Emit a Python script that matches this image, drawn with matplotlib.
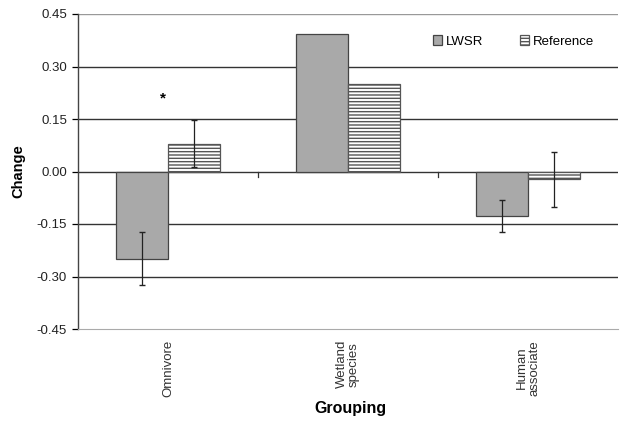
import numpy as np
import matplotlib
matplotlib.use("Agg")
import matplotlib.pyplot as plt

# values
groups = ["Omnivore", "Wetland\nspecies", "Human\nassociate"]
lwsr = [-0.249, 0.394, -0.128]
lwsr_err = [0.075, 0.0, 0.046]
reference = [0.080, 0.251, -0.022]
reference_err = [0.068, 0.0, 0.079]
yticks = [-0.45, -0.30, -0.15, 0.00, 0.15, 0.30, 0.45]

plt.rcParams['font.family'] = ['Liberation Sans', 'DejaVu Sans']
plt.rcParams['hatch.color'] = '#c8c8c8'
plt.rcParams['hatch.linewidth'] = 1.0

fig = plt.figure(figsize=(6.2, 4.22), dpi=100)
ax = fig.add_axes([78 / 620, 93 / 422, 540 / 620, 315 / 422])

x = np.arange(len(groups))
w = 0.29

# gridlines behind the bars
for t in yticks[1:-1]:
    ax.axhline(t, color='#333333', lw=1.0, zorder=0)

ax.bar(x - w / 2, lwsr, w, color='#a9a9a9', edgecolor='#444444', lw=0.9,
       label='LWSR', zorder=2)
ax.bar(x + w / 2, reference, w, color='white', edgecolor='#555555', lw=0.9,
       hatch='-----', label='Reference', zorder=2)

# error bars (none visible on the wetland group)
for i in range(len(groups)):
    if lwsr_err[i] > 0:
        ax.errorbar(x[i] - w / 2, lwsr[i], yerr=lwsr_err[i], fmt='none',
                    ecolor='#222222', elinewidth=0.9, capsize=2.5, zorder=3)
    if reference_err[i] > 0:
        ax.errorbar(x[i] + w / 2, reference[i], yerr=reference_err[i], fmt='none',
                    ecolor='#222222', elinewidth=0.9, capsize=2.5, zorder=3)

ax.text(x[0] - 0.03, 0.21, '*', ha='center', va='center', fontsize=11,
        fontweight='bold')

ax.set_xlim(-0.5, len(groups) - 0.5)
ax.set_ylim(-0.45, 0.45)
ax.set_yticks(yticks)
ax.set_yticklabels([f"{t:.2f}" for t in yticks], fontsize=9.5, color='#222222')
ax.set_xticks(x)
ax.set_xticklabels(groups, rotation=90, fontsize=9.5, color='#333333',
                   va='top', linespacing=1.0)
ax.tick_params(axis='x', length=0, pad=8)
ax.tick_params(axis='y', length=4, width=0.9, direction='out', pad=4)

# small category separator ticks below the zero line
for b in [0.5, 1.5]:
    ax.plot([b, b], [0, -0.015], color='#333333', lw=0.9, zorder=1)

for s in ['top', 'right']:
    ax.spines[s].set_visible(False)
ax.axhline(0.45, color='#999999', lw=1.0, zorder=0)
ax.spines['bottom'].set_color('#aaaaaa')
ax.spines['left'].set_color('#444444')
ax.spines['left'].set_linewidth(1.0)

ax.set_ylabel('Change', fontsize=10.5, fontweight='bold', labelpad=8)
fig.text(350 / 620, 1 - 409 / 422, 'Grouping', ha='center', va='center',
         fontsize=11.5, fontweight='bold')

ax.legend(loc='upper right', bbox_to_anchor=(0.977, 0.97), ncol=2, frameon=False,
          fontsize=9.5, handlelength=0.7, handleheight=0.7, handletextpad=0.25,
          columnspacing=2.8)

fig.savefig('out.png', dpi=100)
